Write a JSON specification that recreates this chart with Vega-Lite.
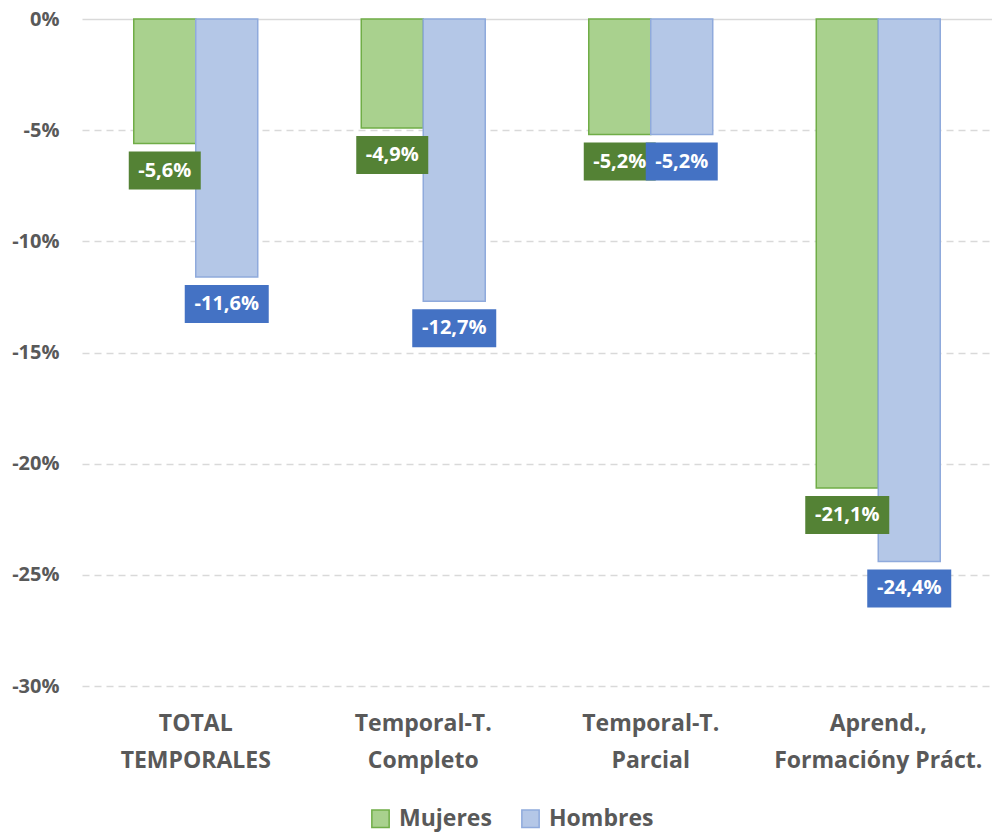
{
  "$schema": "https://vega.github.io/schema/vega-lite/v6.json",
  "width": 910,
  "height": 667,
  "autosize": "none",
  "padding": {"left": 82, "top": 19, "right": 0, "bottom": 146},
  "background": "white",
  "config": {
    "locale": {"number": {"decimal": ",", "thousands": ".", "grouping": [3], "currency": ["", " €"], "minus": "-"}},
    "view": {"stroke": null},
    "font": "Open Sans"
  },
  "data": {
    "values": [
      {"cat": "TOTAL|TEMPORALES", "series": "Mujeres", "v": -0.056},
      {"cat": "TOTAL|TEMPORALES", "series": "Hombres", "v": -0.116},
      {"cat": "Temporal-T.|Completo", "series": "Mujeres", "v": -0.049},
      {"cat": "Temporal-T.|Completo", "series": "Hombres", "v": -0.127},
      {"cat": "Temporal-T.|Parcial", "series": "Mujeres", "v": -0.052},
      {"cat": "Temporal-T.|Parcial", "series": "Hombres", "v": -0.052},
      {"cat": "Aprend.,|Formacióny Práct.", "series": "Mujeres", "v": -0.211},
      {"cat": "Aprend.,|Formacióny Práct.", "series": "Hombres", "v": -0.244}
    ]
  },
  "encoding": {
    "x": {
      "field": "cat", "type": "nominal", "sort": null,
      "scale": {"paddingInner": 0, "paddingOuter": 0},
      "axis": {
        "title": null, "domain": false, "ticks": false, "labelAngle": 0,
        "labelExpr": "split(datum.label, '|')", "labelLimit": 0,
        "labelFont": "Open Sans", "labelFontWeight": "bold", "labelFontSize": 23,
        "labelColor": "#595959", "labelPadding": 26, "labelLineHeight": 37,
        "labelBaseline": "top"
      }
    },
    "xOffset": {
      "field": "series", "type": "nominal", "sort": ["Mujeres", "Hombres"],
      "scale": {"paddingOuter": 0.835, "paddingInner": 0}
    },
    "y": {
      "field": "v", "type": "quantitative",
      "scale": {"domain": [-0.3, 0], "nice": false},
      "axis": {
        "title": null, "domain": false, "ticks": false, "format": ".0%",
        "values": [-0.3, -0.25, -0.2, -0.15, -0.1, -0.05, 0],
        "labelFont": "Open Sans", "labelFontWeight": "bold", "labelFontSize": 20,
        "labelColor": "#595959", "labelPadding": 23,
        "gridColor": "#D9D9D9", "gridWidth": 1.5,
        "gridDash": {"condition": {"test": "datum.value === 0", "value": []}, "value": [7, 5]}
      }
    }
  },
  "layer": [
    {
      "mark": {"type": "bar", "strokeWidth": 1.5},
      "encoding": {
        "fill": {
          "field": "series", "type": "nominal", "sort": ["Mujeres", "Hombres"],
          "scale": {"domain": ["Mujeres", "Hombres"], "range": ["#A9D18E", "#B4C7E7"]},
          "legend": {
            "title": null, "orient": "none", "legendX": 287, "legendY": 788, "direction": "horizontal",
            "symbolType": "square", "symbolSize": 300, "symbolStrokeWidth": 1.5,
            "labelFont": "Open Sans", "labelFontWeight": "bold", "labelFontSize": 23,
            "labelColor": "#595959", "columnPadding": 26, "labelOffset": 7
          }
        },
        "stroke": {
          "field": "series", "type": "nominal", "sort": ["Mujeres", "Hombres"],
          "scale": {"domain": ["Mujeres", "Hombres"], "range": ["#70AD47", "#8FAADC"]},
          "legend": {
            "title": null, "orient": "none", "legendX": 287, "legendY": 788, "direction": "horizontal",
            "symbolType": "square", "symbolSize": 300, "symbolStrokeWidth": 1.5,
            "labelFont": "Open Sans", "labelFontWeight": "bold", "labelFontSize": 23,
            "labelColor": "#595959", "columnPadding": 26, "labelOffset": 7
          }
        }
      }
    },
    {
      "mark": {"type": "point", "filled": true, "opacity": 1, "size": 10000, "yOffset": 27, "strokeWidth": 0},
      "encoding": {
        "shape": {
          "condition": {"test": "datum.v <= -0.1", "value": "M-0.84,-0.38L0.84,-0.38L0.84,0.38L-0.84,0.38Z"},
          "value": "M-0.72,-0.38L0.72,-0.38L0.72,0.38L-0.72,0.38Z"
        },
        "fill": {"condition": {"test": "datum.series === 'Mujeres'", "value": "#548235"}, "value": "#4472C4"}
      }
    },
    {
      "mark": {"type": "text", "dy": 27, "color": "white", "font": "Open Sans", "fontWeight": "bold", "fontSize": 20, "baseline": "middle", "align": "center"},
      "encoding": {
        "text": {"field": "v", "type": "quantitative", "format": ".1%"}
      }
    }
  ]
}
